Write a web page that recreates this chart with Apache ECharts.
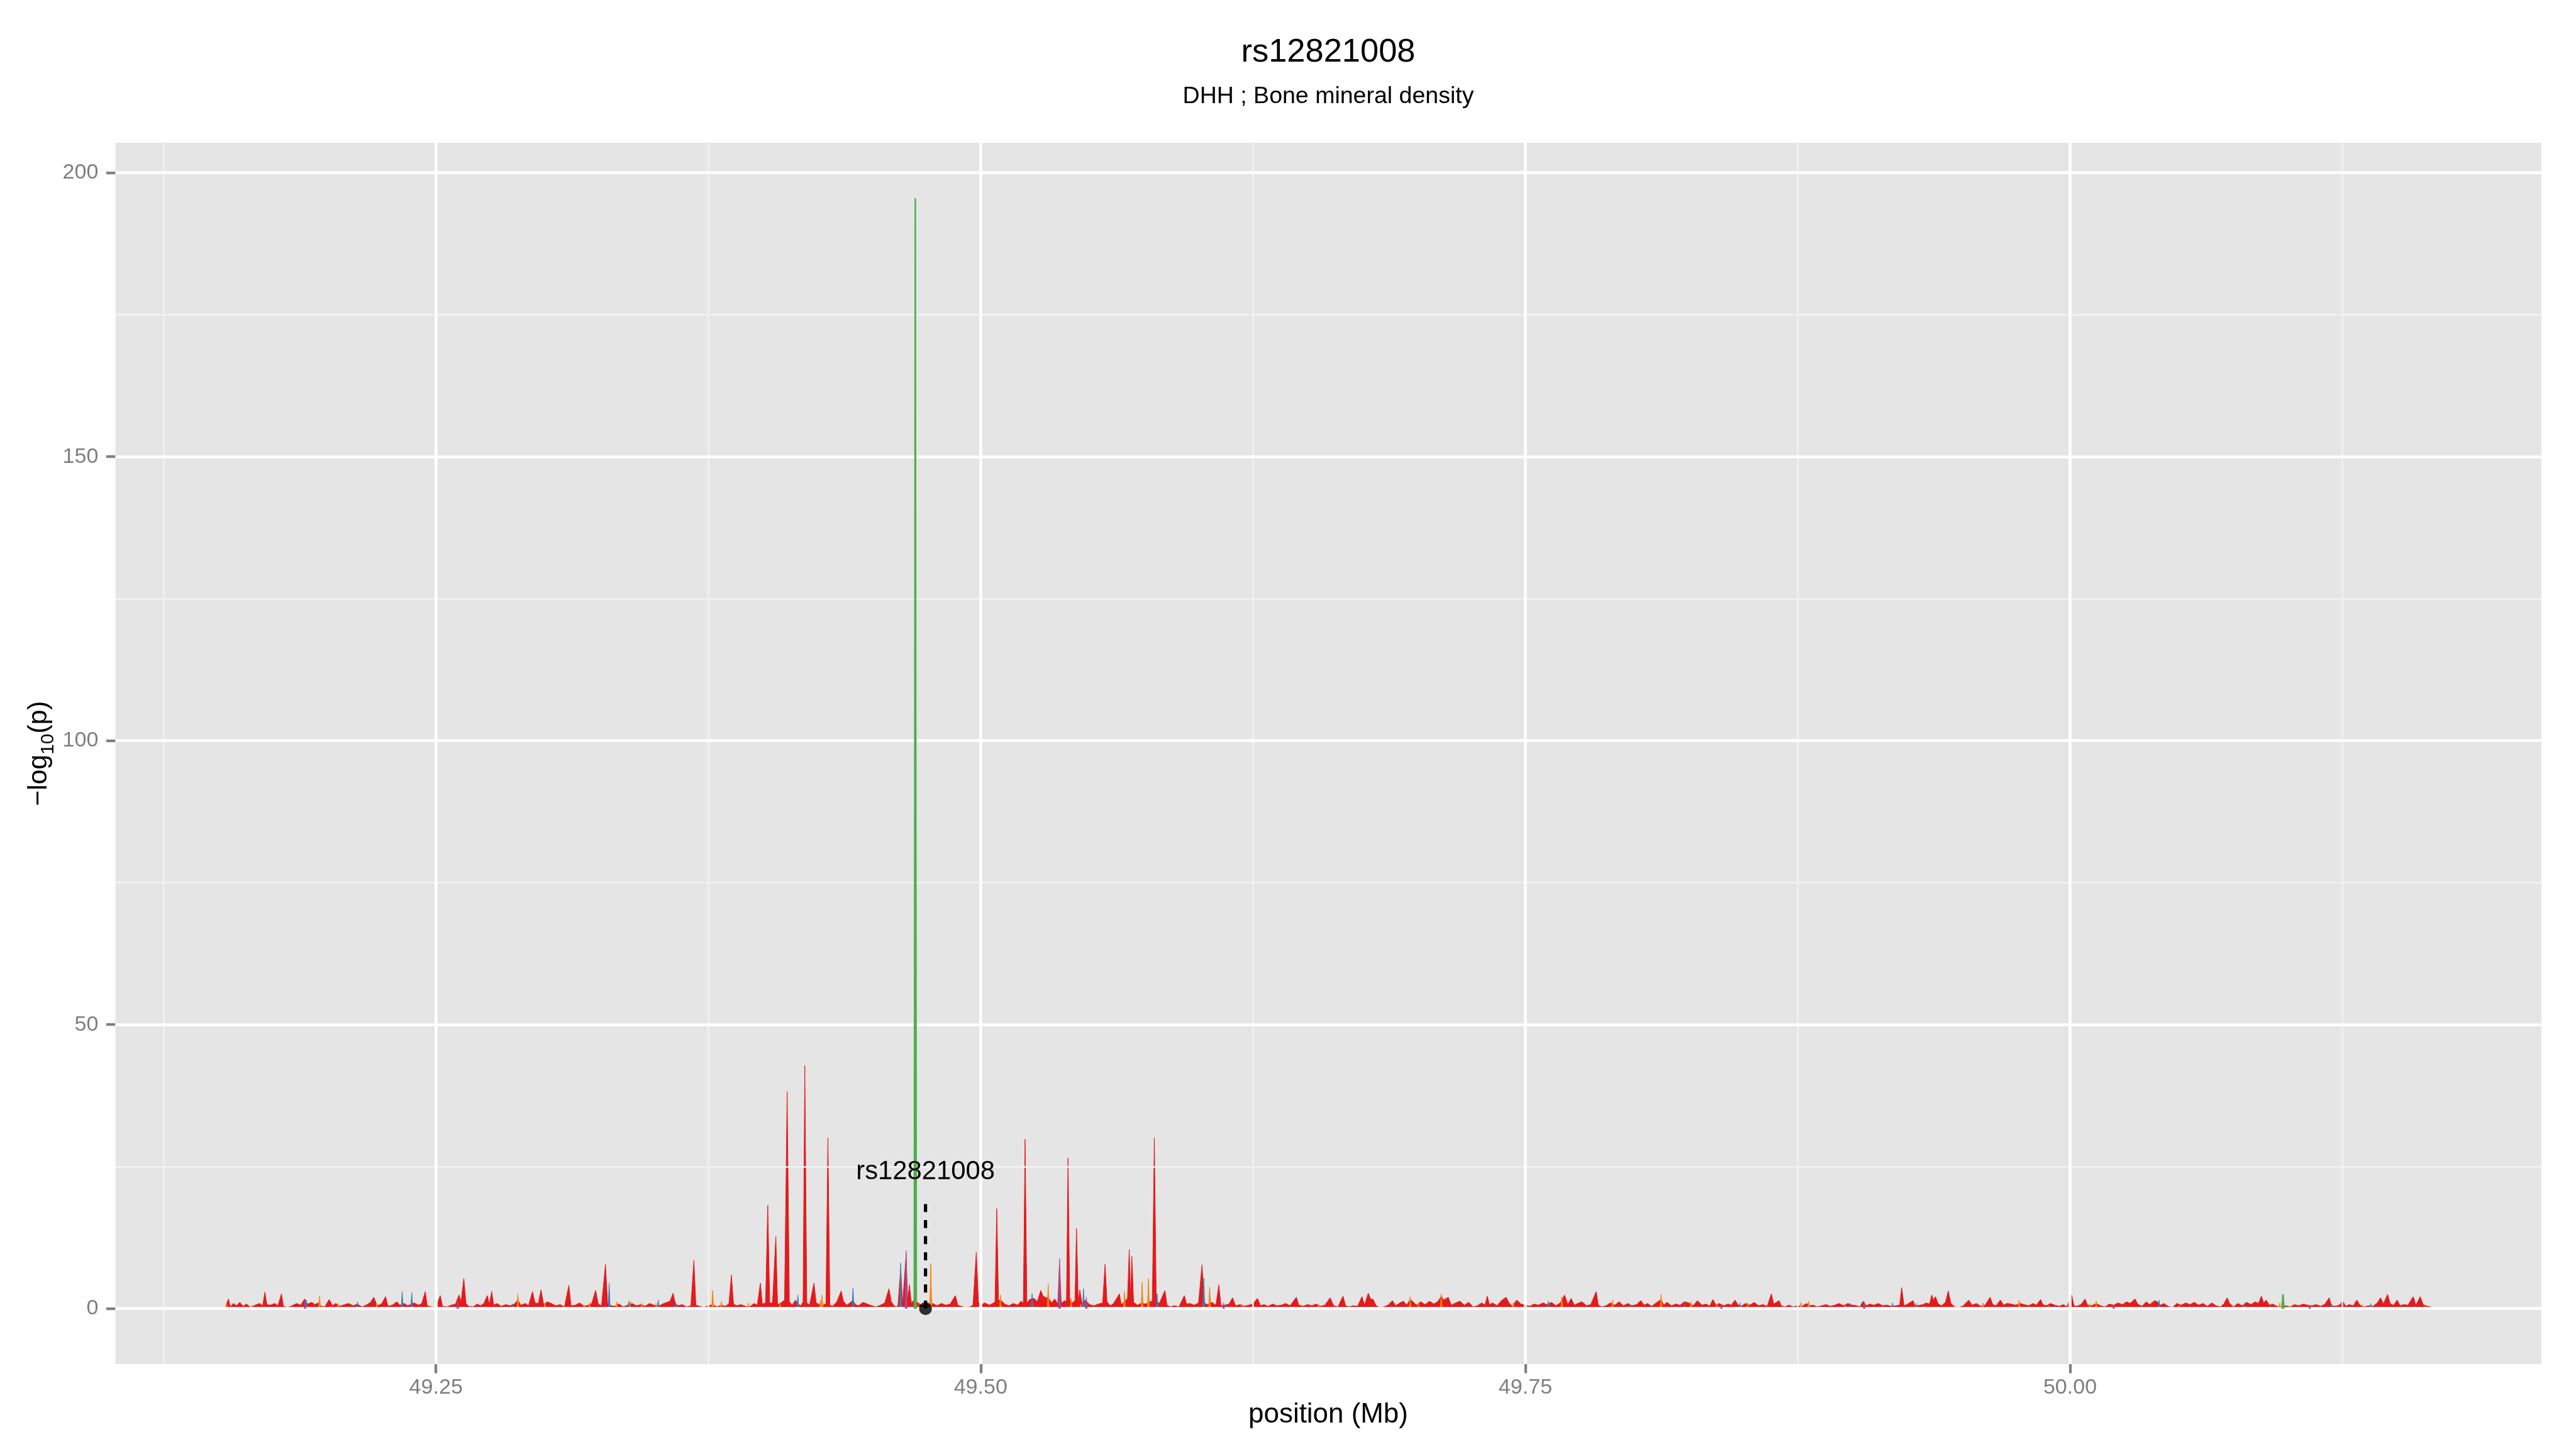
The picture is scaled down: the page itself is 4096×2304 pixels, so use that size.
<!DOCTYPE html>
<html><head><meta charset="utf-8">
<script src="https://cdn.jsdelivr.net/npm/echarts@6/dist/echarts.min.js"></script>
<style>html,body{margin:0;padding:0;background:#fff}#c{width:4096px;height:2304px}</style>
</head><body><div id="c"></div>
<script>
// ---------- texts ----------
const titleText = 'rs12821008';
const subtitleText = 'DHH ; Bone mineral density';
const xTitleText = 'position (Mb)';
const leadSnpName = 'rs12821008';
// ---------- annotation (kb, -log10 p) ----------
const leadSnpPos = 49474.7;
const leadLineTop = 19.4;
const leadLabelY = 24.1;
// ---------- ticks / grid (kb for x) ----------
const xMajorTicks = [49250, 49500, 49750, 50000];
const xMinorGrid = [49125, 49375, 49625, 49875, 50125];
const yMajorTicks = [0, 50, 100, 150, 200];
const yMinorGrid = [25, 75, 125, 175];
// ---------- series: [position kb, -log10(p)] ----------
const redSnps = [
[49153.5,0.4],[49154.8,1.7],[49155.6,0.3],[49157,0.9],[49158.5,0.5],[49160,1.1],[49161.5,0.4],[49163,0.8],[49165,0.2],[49167,0.6],[49169,0.9],[49170.5,0.5],[49171.5,2.9],[49172.4,0.7],[49174,0.6],[49176,0.9],[49177.5,0.5],[49179.1,2.6],[49180,0.4],[49182,0.2],[49184,0.5],[49186,0.9],[49188,0.6],[49189.7,1.7],[49191,0.8],[49193,1.1],[49194.5,0.7],[49196,1.0],[49197.5,0.4],[49199,0.3],[49201,1.6],[49202.5,0.5],[49204,0.9],[49206,0.4],[49208,0.7],[49210,0.9],[49212,0.5],[49214,0.8],[49216,0.3],[49218,0.6],[49220,1.1],[49221.5,2.0],[49223,0.5],[49225,0.8],[49226.9,2.1],[49228,0.4],[49230,0.6],[49232,1.2],[49233.5,0.6],[49235.5,0.9],[49237,0.5],[49240,1.0],[49242,0.6],[49243.5,0.9],[49245.1,3.0],[49246,0.5],[49248,0.3],[49250,0.2],[49252,2.3],[49253,0.4],[49255,0.3],[49257,0.6],[49259,0.8],[49260.6,2.4],[49261.5,1.2],[49262.8,5.3],[49263.8,0.9],[49265,0.4],[49267,0.3],[49269,0.8],[49270.5,0.5],[49272,0.9],[49273.6,2.3],[49274.5,0.7],[49275.6,3.0],[49276.5,0.6],[49278,0.9],[49280,0.4],[49282,0.7],[49284,0.5],[49286,0.8],[49287.6,1.5],[49289,0.6],[49291,0.9],[49292.5,0.5],[49294.3,3.0],[49295.5,1.0],[49297,0.9],[49298.2,3.3],[49299.5,0.6],[49301,1.2],[49303,0.9],[49305,0.5],[49307,0.7],[49309,0.3],[49311,4.1],[49312,0.5],[49314,0.6],[49316,1.0],[49318,0.4],[49320,0.6],[49321.5,0.9],[49323.3,3.2],[49324.5,0.8],[49326,0.5],[49327.8,7.8],[49328.8,0.9],[49330.5,0.5],
[49332,0.4],[49334,0.8],[49336,0.3],[49338,0.6],[49340,0.9],[49342,0.5],[49344,0.7],[49346,0.4],[49348,0.9],[49350,0.6],[49352,0.4],[49354,0.8],[49356,1.1],[49357.5,1.3],[49358.8,2.7],[49359.8,1.0],[49361,0.5],[49363,0.7],[49365,0.3],[49367,0.5],[49368.4,8.5],[49369.3,0.6],[49371,0.4],[49373,0.2],[49375,0.5],[49377,0.7],[49379,0.3],[49381,0.6],[49383,0.4],[49384.5,0.9],[49385.6,5.9],[49386.6,0.8],[49388,0.5],[49390,0.7],[49392,0.4],[49394,0.3],[49396,0.9],[49397.5,0.6],[49398.9,4.5],[49399.8,0.8],[49401.3,1.0],[49402.3,18.2],[49403.2,0.9],[49404.5,1.1],[49406,12.7],[49406.8,0.7],[49408,0.9],[49410,1.5],[49411.2,38.2],[49412.2,1.2],[49413.5,0.6],[49415,1.5],[49416.1,0.8],[49417.5,0.5],[49418.5,1.2],[49419.3,42.8],[49420.2,1.0],[49421.5,0.6],[49423.5,4.5],[49424.5,1.0],[49426,0.7],[49427.5,0.5],[49429,0.9],[49429.9,30.1],[49430.8,0.6],[49432,0.4],[49434,1.2],[49436,3.1],[49437,1.3],[49438.5,0.6],[49440,1.0],[49441.4,1.5],[49442.5,0.7],[49444,0.5],[49446,1.1],[49448,0.8],[49450,0.5],[49452,0.3],[49454,0.6],[49456,1.0],[49457.9,3.5],[49459,1.2],[49460.5,0.4],[49462,0.3],[49463.3,7.0],[49464.2,0.9],[49465.8,9.5],[49466.5,1.5],[49467.3,4.2],[49468.2,1.0],[49469.4,1.5],[49470,1.5],[49470.6,1.2],[49472,0.8],[49473.5,0.5],[49475,1.1],[49476.5,0.6],[49478,0.9],[49480,0.5],[49482,0.9],[49484,0.6],[49486,0.8],[49488.4,2.3],[49489.5,0.6],[49491,0.4],[49493,0.2],[49495,0.3],[49496.5,0.6],[49498,9.9],[49499,1.1],
[49500.5,0.7],[49502,1.0],[49504,0.6],[49505.5,0.9],[49506.6,1.2],[49507.4,17.6],[49508.2,1.5],[49509.5,1.4],[49511,0.8],[49513,0.5],[49515,0.9],[49517,0.6],[49518.5,1.3],[49519.6,1.0],[49520.4,29.8],[49521.2,1.0],[49522.5,1.6],[49524.5,1.8],[49526,1.2],[49527.6,3.2],[49528.6,2.2],[49530,1.9],[49531,2.0],[49532.5,1.0],[49534,1.7],[49535.4,0.8],[49536.2,8.0],[49537,0.9],[49538.5,1.4],[49539.4,1.2],[49540.1,26.5],[49540.9,1.5],[49542,1.0],[49543.3,1.4],[49544,14.1],[49544.8,1.0],[49545.5,3.3],[49546.5,0.9],[49548,1.5],[49550,0.7],[49552,0.5],[49554,0.8],[49556,1.0],[49557.1,7.8],[49558,1.2],[49559.5,0.5],[49561,0.9],[49563.7,2.6],[49564.5,0.7],[49566,1.2],[49567.4,1.8],[49568.2,10.4],[49568.8,2.0],[49569.4,9.2],[49570.2,1.1],[49572,0.6],[49574,1.0],[49575.5,0.8],[49577,1.0],[49578.8,1.4],[49579.7,30.1],[49580.6,1.3],[49582,0.9],[49584.6,3.2],[49585.5,0.6],[49587,0.3],[49589,0.5],[49591,0.3],[49593.5,2.3],[49594.5,0.8],[49596,0.9],[49598,0.6],[49600,1.0],[49601.6,7.7],[49602.6,1.0],[49604,0.7],[49606,1.1],[49608,0.6],[49609.3,4.2],[49610.3,0.5],[49612,0.6],[49614,0.8],[49615.6,1.9],[49617,0.5],[49619,0.7],[49621,0.4],[49623,0.6],[49625,0.8],[49627,1.8],[49628.5,0.5],[49630,0.7],[49632,0.4],[49634,0.8],[49636,0.5],[49638,0.6],[49640,0.9],[49642,0.5],[49644.9,2.0],[49646,0.6],[49648,0.4],[49650,0.7],[49652,0.5],[49654,0.8],[49656,0.4],[49658,0.6],[49660.4,1.9],
[49662,0.5],[49664,0.3],[49666.3,2.2],[49667.5,0.5],[49669,0.3],[49671,0.5],[49673,0.4],[49675,2.1],[49676.2,0.6],[49677.9,2.7],[49679.1,1.6],[49680,1.7],[49681.5,0.5],[49683,0.2],[49685,0.3],[49687,0.6],[49689,1.4],[49690.5,0.5],[49692,0.9],[49694,1.3],[49695.5,0.6],[49697.1,1.6],[49698.5,1.2],[49700,0.6],[49702,1.2],[49704,0.7],[49706,1.3],[49708,0.8],[49710,1.3],[49711.4,2.2],[49712.5,1.5],[49714.6,2.0],[49716,0.6],[49718,1.0],[49720,1.3],[49722,0.6],[49724,1.1],[49726,0.3],[49728,0.5],[49730,1.0],[49731.5,0.6],[49732.5,2.2],[49733.5,0.7],[49735,1.0],[49737,0.5],[49739,1.4],[49741.1,2.0],[49742.5,1.0],[49744,0.4],[49746,1.5],[49748,0.8],[49750,0.6],[49752,0.4],[49754,0.8],[49756,0.6],[49758,1.0],[49760,0.7],[49762,1.1],[49764,0.5],[49766,1.0],[49768,2.4],[49769.5,0.7],[49771,1.8],[49772.5,0.6],[49774,0.9],[49776,1.2],[49778,0.5],[49780,0.7],[49782.5,3.0],[49783.5,0.6],[49785,0.3],[49787,0.5],[49789,1.0],[49791,0.6],[49793,1.2],[49795,0.5],[49797,0.9],[49799,0.5],[49801,0.7],[49803,1.4],[49804.5,0.6],[49806,0.9],[49808,0.4],[49810,1.0],[49812.3,1.6],[49813.5,0.6],[49815,1.1],[49817,0.5],[49819,0.8],[49821,0.6],[49823,1.2],[49825,1.0],[49827,0.5],[49829,1.4],[49831,0.6],[49833,0.8],[49834.5,0.4],[49836.1,1.6],[49837.5,0.6],[49839,0.9],
[49841,0.5],[49843,0.8],[49844.5,0.6],[49846.2,1.5],[49847.5,0.7],[49849,0.4],[49851,0.9],[49853,0.6],[49855,1.1],[49857,0.5],[49859,0.7],[49861,0.4],[49862.9,2.6],[49864,0.8],[49866.4,1.4],[49867.5,0.5],[49869,0.3],[49871,0.6],[49873,0.3],[49875,0.5],[49877,0.4],[49879,0.9],[49880.5,0.5],[49882,0.6],[49884,0.3],[49886,0.5],[49888,0.7],[49890,0.4],[49892,0.6],[49894,0.9],[49896,0.5],[49898,0.9],[49900,0.6],[49902,0.5],[49903.5,0.3],[49905,1.3],[49906.5,0.5],[49908,0.8],[49910,0.6],[49912,0.9],[49914,0.5],[49916,0.6],[49918,0.4],[49920,0.5],[49921.8,0.6],[49922.7,3.7],[49923.8,0.5],[49925.5,0.8],[49927.9,1.4],[49929,0.4],[49931,0.6],[49932.5,0.7],[49934,1.0],[49935.5,0.8],[49936.5,2.4],[49937.3,1.5],[49938.2,2.1],[49939.5,0.8],[49941,0.5],[49942.8,1.1],[49944.1,3.1],[49945.3,0.9],[49947,0.3],[49949,0.2],[49951,0.5],[49953.5,1.5],[49955,0.6],[49957,0.9],[49959,0.4],[49961,0.6],[49963.3,2.0],[49964.5,0.7],[49966,0.5],[49968,1.5],[49969.5,0.6],[49971,0.9],[49973,0.8],[49975,0.6],[49977,0.9],[49979,0.7],[49981,0.5],[49983,0.9],[49984.5,0.6],[49986.5,1.6],[49987.5,0.7],[49989,0.5],[49991,0.9],[49993,0.6],[49995,0.4],[49997,0.7],[49998.5,0.3],[50000.7,2.4],[50001.8,0.5],[50003,0.4],[50005,0.7],[50006.9,1.7],[50008,0.6],[50010,0.5],
[50012,0.9],[50014,0.5],[50016,0.3],[50018,0.8],[50020,0.6],[50022,1.0],[50024,0.7],[50026,1.2],[50027.5,0.9],[50029.8,1.7],[50031,0.8],[50033,0.4],[50035,1.2],[50036.5,0.7],[50038.9,1.4],[50040,1.2],[50041.5,0.6],[50043,0.9],[50045,0.4],[50047,0.2],[50049,0.9],[50051,0.6],[50053,1.0],[50055,0.7],[50057,1.1],[50059,0.6],[50061,0.9],[50063,0.4],[50065,1.0],[50067,0.5],[50069,0.3],[50070.5,0.8],[50072.1,1.9],[50073.2,0.9],[50075,0.3],[50077,0.9],[50079,0.5],[50081,1.1],[50083,0.7],[50085,1.2],[50086.5,0.9],[50087.8,2.2],[50088.8,1.0],[50090,1.5],[50091.5,0.6],[50093,0.8],[50095,0.4],[50097,0.3],[50099,0.5],[50101,0.3],[50103,0.7],[50105,0.5],[50107,0.8],[50109,0.6],[50111,0.5],[50113,0.7],[50115,0.4],[50117,0.8],[50118.9,1.9],[50120,0.5],[50122,0.4],[50124,0.7],[50125,1.4],[50126.5,0.4],[50128,0.7],[50130,0.5],[50131.6,1.5],[50133,0.6],[50135,0.3],[50137,0.5],[50139,0.4],[50141,1.0],[50142.5,1.9],[50143.8,0.8],[50145.7,2.5],[50147,0.8],[50148.5,0.6],[50150.1,1.5],[50151.5,0.5],[50153,0.7],[50155,0.6],[50157.5,2.1],[50158.7,0.6],[50160.7,2.1],[50162,0.7],[50164,0.4],[50165.7,0.3]
];
const orangeSnps = [
[49154.0,0.8],[49165.5,0.6],[49196.6,2.2],[49205,0.9],[49222.8,0.8],[49247,0.6],[49287.6,2.6],[49300,1.0],[49318,0.6],[49320.6,1.0],[49333,1.2],[49339,1.4],[49344.5,1.0],[49351,0.9],[49377.0,3.2],[49381,1.2],[49393.5,1.0],[49408,0.9],[49426.5,1.5],[49427.2,2.4],[49477.1,7.9],[49509.1,2.4],[49531,4.3],[49541.5,1.8],[49546,0.8],[49566,3.0],[49574.1,4.6],[49577,5.3],[49605.1,3.8],[49620,0.7],[49655,0.8],[49697.1,2.1],[49701,1.0],[49711.4,2.6],[49744.5,1.0],[49766.7,2.1],[49790,1.5],[49812.3,2.5],[49826,1.2],[49838,0.8],[49852,1.0],[49876.5,1.1],[49880,1.3],[49897,0.6],[49933,0.5],[49960,1.0],[49976.6,1.5],[49990,0.6],[50009,0.8],[50012,1.3],[50050,0.6],[50096.2,1.0],[50134,0.7],[50163,0.5]
];
const blueSnps = [
[49190.5,1.5],[49214,1.2],[49234.5,3.0],[49238.9,2.8],[49250.5,0.6],[49285,0.8],[49329.5,4.5],[49338.5,1.2],[49352,1.5],[49360,1.1],[49416.1,2.4],[49441.4,3.6],[49463.3,8.0],[49523.6,2.6],[49547.2,3.5],[49581,2.6],[49602.4,5.4],[49612.5,0.6],[49690,0.4],[49723,0.5],[49760.5,1.3],[49798,0.7],[49823,0.9],[49848.5,1.0],[49899,0.9],[49918.5,1.0],[49929.5,0.9],[49993,0.6],[50040.8,1.5],[50080,0.9],[50120,0.8],[50138,0.9],[50158,0.5]
];
const purpleSnps = [
[49190,1.6],[49260,1.2],[49465.8,10.2],[49536.2,8.8],[49548.5,2.0],[49611.5,1.0],[49840,0.6],[49905.5,1.2],[50020,0.6],[50110,0.6]
];
const greenSnps = [
[49470.0,195.5],[50097.7,2.5]
];

// ---------- build ----------
const S = 0.853;
const FONT = 'Liberation Sans';
const allSnps = redSnps.concat(orangeSnps, blueSnps, purpleSnps, greenSnps);
const ys = allSnps.map(d => d[1]);
const xLo = Math.min(...redSnps.map(d=>d[0])), xHi = Math.max(...redSnps.map(d=>d[0]));
const yHi = Math.max(...ys);
const xMin = xLo - 0.05 * (xHi - xLo), xMax = xHi + 0.05 * (xHi - xLo);
const yMin = -0.05 * yHi, yMax = yHi * 1.05;

// isolated SNPs drawn as thin spikes, separated so no line runs along the baseline
function spikes(list) {
  const out = [];
  list.slice().sort((a,b)=>a[0]-b[0]).forEach(([p,h]) => {
    out.push([p - 0.45, 0], [p, h], [p + 0.45, 0], [p + 0.5, null]);
  });
  return out;
}
function areaSeries(name, data, color, z, lw) {
  return {
    name, type: 'line', data, z, symbol: 'none', showSymbol: false, silent: true,
    animation: false, connectNulls: false,
    lineStyle: { color, width: lw || 1 },
    areaStyle: { color, opacity: 1 }
  };
}

const major = { color: '#FFFFFF', width: 5.5 * S, type: 'solid' };
const minor = { color: '#F2F2F2', width: 3 * S, type: 'solid' };
const gridLines = [].concat(
  xMinorGrid.map(v => ({ xAxis: v, lineStyle: minor })),
  yMinorGrid.map(v => ({ yAxis: v, lineStyle: minor })),
  xMajorTicks.map(v => ({ xAxis: v, lineStyle: major })),
  yMajorTicks.map(v => ({ yAxis: v, lineStyle: major }))
);

const chart = echarts.init(document.getElementById('c'), null, { renderer: 'canvas', width: 4096, height: 2304 });
const option = {
  backgroundColor: '#FFFFFF',
  animation: false,
  grid: { left: 183.5, top: 227, right: 55, bottom: 135, show: true, backgroundColor: '#E5E5E5', borderWidth: 0 },
  xAxis: {
    type: 'value', min: xMin, max: xMax,
    splitLine: { show: false }, minorSplitLine: { show: false },
    axisLine: { show: false, onZero: false },
    axisTick: { show: true, length: 17 * S, lineStyle: { color: '#7F7F7F', width: 5 * S }, customValues: xMajorTicks },
    axisLabel: { customValues: xMajorTicks, formatter: v => (v / 1000).toFixed(2), color: '#7F7F7F', fontSize: 40 * S, fontFamily: FONT, margin: 21 }
  },
  yAxis: {
    type: 'value', min: yMin, max: yMax,
    splitLine: { show: false },
    axisLine: { show: false, onZero: false },
    axisTick: { show: true, length: 17 * S, lineStyle: { color: '#7F7F7F', width: 5 * S }, customValues: yMajorTicks },
    axisLabel: { customValues: yMajorTicks, formatter: v => String(v), color: '#7F7F7F', fontSize: 40 * S, fontFamily: FONT, margin: 27 }
  },
  series: [
    { name: 'grid', type: 'line', data: [[xMin, yMin - 10]], z: 1, silent: true, symbol: 'none', lineStyle: { opacity: 0 },
      markLine: { silent: true, symbol: ['none', 'none'], animation: false, label: { show: false }, emphasis: { disabled: true }, data: gridLines } },
    areaSeries('red', redSnps, '#E41A1C', 2, 1),
    areaSeries('orange', spikes(orangeSnps), '#FF7F00', 3, 1),
    areaSeries('blue', spikes(blueSnps), '#377EB8', 4, 1),
    areaSeries('purple', spikes(purpleSnps), '#984EA3', 5, 1),
    areaSeries('green', spikes(greenSnps), '#4DAF4A', 6, 2.5),
    { name: 'leadLine', type: 'line', z: 8, silent: true, symbol: 'none', animation: false,
      data: [[leadSnpPos, 0], [leadSnpPos, leadLineTop]],
      lineStyle: { color: '#000000', width: 6 * S, type: [15 * S, 15 * S] } },
    { name: 'leadDot', type: 'scatter', z: 9, silent: true, animation: false,
      data: [[leadSnpPos, 0]], symbolSize: 24 * S, itemStyle: { color: '#000000' } },
    { name: 'leadLabel', type: 'scatter', z: 9, silent: true, animation: false,
      data: [[leadSnpPos, leadLabelY]], symbolSize: 1, itemStyle: { color: 'rgba(0,0,0,0)' },
      label: { show: true, position: 'inside', formatter: leadSnpName, color: '#000000', opacity: 1, fontSize: 49 * S, fontFamily: FONT } }
  ],
  graphic: [
    { type: 'text', x: 2112, y: 83.6, silent: true,
      style: { text: titleText, fill: '#000', fontSize: 61.5 * S, fontFamily: FONT, align: 'center', verticalAlign: 'middle' } },
    { type: 'text', x: 2112, y: 154, silent: true,
      style: { text: subtitleText, fill: '#000', fontSize: 44 * S, fontFamily: FONT, align: 'center', verticalAlign: 'middle' } },
    { type: 'text', x: 2112, y: 2250, silent: true,
      style: { text: xTitleText, fill: '#000', fontSize: 51.5 * S, fontFamily: FONT, align: 'center', verticalAlign: 'middle' } },
    { type: 'text', x: 62, y: 1198, rotation: Math.PI / 2, silent: true,
      style: { text: '{m|\u2212log}{s|10}{m|(p)}', fill: '#000', align: 'center', verticalAlign: 'middle',
        rich: {
          m: { fontSize: 50 * S, fontFamily: FONT, fill: '#000', lineHeight: 59, verticalAlign: 'middle' },
          s: { fontSize: 35 * S, fontFamily: FONT, fill: '#000', lineHeight: 59, verticalAlign: 'bottom' }
        } } }
  ]
};
chart.setOption(option);
</script>
</body></html>
